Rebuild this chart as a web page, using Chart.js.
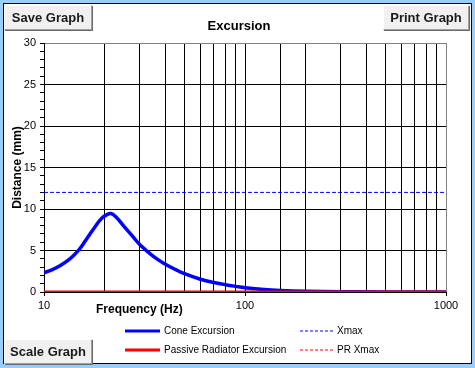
<!DOCTYPE html>
<html>
<head>
<meta charset="utf-8">
<script src="https://cdn.jsdelivr.net/npm/chart.js@4"></script>
<style>
  html, body { margin:0; padding:0; }
  body { width:475px; height:368px; background:#99ccff; position:relative; overflow:hidden; font-family:"Liberation Sans", Arial, sans-serif; }
  #panel { position:absolute; left:3px; top:3px; width:467px; height:359px; background:#fff; border:1px solid #000; }
  #graph { position:absolute; left:0; top:0; }
  .btn { position:absolute; box-sizing:border-box; height:25px; background:#f0f0f0; border:1px solid #a0a0a0; border-top-color:#fff; border-left-color:#fff; box-shadow:1px 1px 0 #696969; font:bold 13px "Liberation Sans", Arial, sans-serif; color:#1a1a1a; padding:0; z-index:2; }
  #title { position:absolute; left:139px; width:200px; top:18px; text-align:center; font:bold 13px "Liberation Sans", Arial, sans-serif; line-height:16px; color:#000; }
  #xtitle { position:absolute; left:96px; top:302px; font:bold 12px "Liberation Sans", Arial, sans-serif; line-height:14px; color:#000; }
  .leg { position:absolute; font:10px "Liberation Sans", Arial, sans-serif; color:#000; line-height:12px; white-space:nowrap; }
  .leg svg { position:absolute; left:0; top:4px; }
</style>
</head>
<body>
<div id="panel"></div>
<canvas id="graph" width="475" height="368"></canvas>
<button class="btn" style="left:4px;top:5px;width:88px;">Save Graph</button>
<button class="btn" style="left:383px;top:5px;width:86px;">Print Graph</button>
<button class="btn" style="left:4px;top:339px;width:88px;">Scale Graph</button>
<div id="title">Excursion</div>
<div id="xtitle">Frequency (Hz)</div>
<div id="legend"></div>
<script>
// data
const freqHz = [10, 11, 12, 13, 14, 15, 16, 17, 18, 19, 20, 21.5, 23, 25, 27.5, 30, 35, 40, 45, 50, 60, 70, 80, 90, 100, 120, 150, 200, 300, 500, 1000];
const coneMm = [2.3, 2.7, 3.17, 3.72, 4.38, 5.15, 6.1, 7.05, 7.9, 8.65, 9.15, 9.45, 8.95, 7.9, 6.75, 5.7, 4.3, 3.37, 2.72, 2.2, 1.53, 1.15, 0.88, 0.68, 0.52, 0.34, 0.19, 0.09, 0.03, 0.01, 0];
const edgeHz = [10, 1000];
const passiveMm = [0, 0];
const xmaxMm = [12, 12];
const prXmaxMm = [0, 0];
const xLabels = [10, 100, 1000];

const seriesNames = ['Cone Excursion', 'Passive Radiator Excursion', 'Xmax', 'PR Xmax'];
const seriesColors = ['#0000ff', '#ff0000', '#0000ff', '#ff0000'];
const seriesDashed = [false, false, true, true];

const pts = (xs, ys) => xs.map((x, i) => ({x: x, y: ys[i]}));

const chart = new Chart(document.getElementById('graph'), {
    type: 'line',
    data: {
        datasets: [
            {label: seriesNames[1], data: pts(edgeHz, passiveMm), borderColor: seriesColors[1], borderWidth: 3, pointRadius: 0},
            {label: seriesNames[0], data: pts(freqHz, coneMm), borderColor: seriesColors[0], borderWidth: 3.5, pointRadius: 0, tension: 0.4},
            {label: seriesNames[2], data: pts(edgeHz, xmaxMm), borderColor: seriesColors[2], borderWidth: 1, borderDash: [4, 2], pointRadius: 0},
            {label: seriesNames[3], data: pts(edgeHz, prXmaxMm), borderColor: seriesColors[3], borderWidth: 1, borderDash: [4, 2], pointRadius: 0}
        ]
    },
    options: {
        responsive: false,
        animation: false,
        layout: {padding: {left: 0, right: 29, top: 43, bottom: 56}},
        plugins: {
            legend: {display: false},
            tooltip: {enabled: false}
        },
        scales: {
            x: {
                type: 'logarithmic', min: 10, max: 1000,
                afterFit: (s) => { s.height = 20; },
                border: {color: '#000', width: 1},
                grid: {
                    color: (c) => c.tick && c.tick.value === 1000 ? '#808080' : '#000',
                    tickColor: (c) => c.tick && xLabels.includes(c.tick.value) ? '#000' : 'rgba(0,0,0,0)',
                    tickLength: 4, lineWidth: 1
                },
                ticks: {
                    autoSkip: false, maxRotation: 0, padding: 3, color: '#000',
                    font: {family: '"Liberation Sans", Arial', size: 11},
                    callback: (v) => xLabels.includes(v) ? String(v) : ''
                }
            },
            y: {
                min: 0, max: 30,
                afterFit: (s) => { s.width = 44; },
                border: {color: '#000', width: 1},
                grid: {
                    color: (c) => !c.tick ? '#000' : c.tick.value === 30 ? '#808080' : (c.tick.value % 5 === 0 ? '#000' : 'rgba(0,0,0,0)'),
                    tickColor: '#000', tickLength: 4, lineWidth: 1
                },
                ticks: {
                    stepSize: 1, autoSkip: false, padding: 4, color: '#000',
                    font: {family: '"Liberation Sans", Arial', size: 11},
                    callback: (v) => v % 5 === 0 ? String(v) : ''
                },
                title: {display: true, text: 'Distance (mm)', color: '#000', font: {family: '"Liberation Sans", Arial', size: 12, weight: 'bold'}, padding: {top: 10, bottom: 0}}
            }
        }
    }
});

// legend, two columns
const legend = document.getElementById('legend');
seriesNames.forEach((name, i) => {
    const col = Math.floor(i / 2), row = i % 2;
    const left = [125, 300][col];
    const w = [35, 34][col];
    const d = document.createElement('div');
    d.className = 'leg';
    d.style.left = left + 'px';
    d.style.top = (325 + row * 19) + 'px';
    d.style.paddingLeft = ([164, 337][col] - left) + 'px';
    const sw = seriesDashed[i] ? 1 : 3;
    d.innerHTML = '<svg width="' + w + '" height="4"><line x1="0" y1="2" x2="' + w + '" y2="2" stroke="' + seriesColors[i] + '" stroke-width="' + sw + '"' + (seriesDashed[i] ? ' stroke-dasharray="3,2"' : '') + '/></svg>';
    d.appendChild(document.createTextNode(name));
    legend.appendChild(d);
});
</script>
</body>
</html>
